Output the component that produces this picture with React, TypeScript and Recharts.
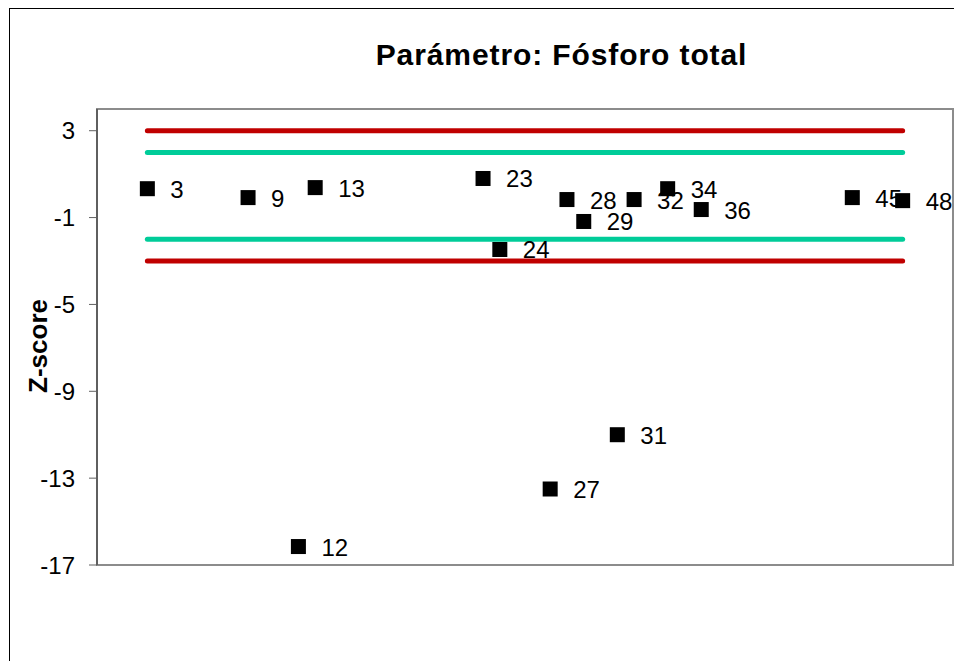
import {
  ScatterChart,
  Scatter,
  XAxis,
  YAxis,
  ReferenceLine,
  ReferenceArea,
  LabelList,
} from "recharts";

// lab number and z-score
const labs = [3, 9, 12, 13, 23, 24, 27, 28, 29, 31, 32, 34, 36, 45, 48];
const zScores = [
  0.33, -0.08, -16.15, 0.38, 0.8, -2.47, -13.5, -0.17, -1.18, -11.0, -0.17,
  0.33, -0.63, -0.08, -0.22,
];
const yTicks = [3, -1, -5, -9, -13, -17];
const warnLimits = [2, -2];
const actionLimits = [3, -3];
const limitFrom = 3;
const limitTo = 48;

const points = labs.map((lab, i) => ({ lab, z: zScores[i] }));

const font = "Arial, 'Liberation Sans', sans-serif";

function Square(props: any) {
  const { cx, cy } = props;
  return <rect x={cx - 7.5} y={cy - 7.5} width={15} height={15} fill="#000" />;
}

function PointLabel(props: any) {
  const { x, y, width, height, value } = props;
  const cx = x + width / 2;
  const cy = y + height / 2;
  return (
    <text x={cx + 23} y={cy + 9} fontSize={24} fontFamily={font} fill="#000">
      {value}
    </text>
  );
}

function AxisTitle(props: any) {
  const { viewBox } = props;
  const x = viewBox.x + 37;
  const y = viewBox.y + viewBox.height / 2 + 9;
  return (
    <text
      x={x}
      y={y}
      transform={`rotate(-90, ${x}, ${y})`}
      textAnchor="middle"
      fontSize={26}
      fontWeight="bold"
      fontFamily={font}
      fill="#000"
    >
      Z-score
    </text>
  );
}

export default function App() {
  return (
    <div
      style={{
        position: "absolute",
        left: 9,
        top: 8,
        width: 945,
        height: 653,
        borderLeft: "1px solid #000",
        borderTop: "1px solid #000",
        boxSizing: "border-box",
        background: "#fff",
        fontFamily: font,
      }}
    >
      <div
        style={{
          position: "absolute",
          left: 0,
          top: 29,
          width: 1103,
          textAlign: "center",
          fontSize: 30,
          letterSpacing: 0.9,
          fontWeight: "bold",
        }}
      >
        Parámetro: Fósforo total
      </div>
      <ScatterChart
        width={944}
        height={652}
        margin={{ top: 100, right: 1, bottom: 96, left: 0 }}
      >
        <XAxis type="number" dataKey="lab" domain={[0, 51]} hide />
        <YAxis
          type="number"
          dataKey="z"
          domain={[-17, 4]}
          ticks={yTicks}
          interval={0}
          width={87}
          tickSize={8}
          tickMargin={14}
          axisLine={{ stroke: "#505050", strokeWidth: 1.5 }}
          tickLine={{ stroke: "#606060" }}
          tick={{ fill: "#000", fontSize: 24, fontFamily: font }}
          label={<AxisTitle />}
        />
        <ReferenceArea
          x1={0}
          x2={51}
          y1={-17}
          y2={4}
          fill="none"
          stroke="#8c8c8c"
          strokeWidth={2}
        />
        {actionLimits.map((v) => (
          <ReferenceLine
            key={"a" + v}
            segment={[
              { x: limitFrom, y: v },
              { x: limitTo, y: v },
            ]}
            stroke="#c00000"
            strokeWidth={5}
            strokeLinecap="round"
          />
        ))}
        {warnLimits.map((v) => (
          <ReferenceLine
            key={"w" + v}
            segment={[
              { x: limitFrom, y: v },
              { x: limitTo, y: v },
            ]}
            stroke="#00cc99"
            strokeWidth={5}
            strokeLinecap="round"
          />
        ))}
        <Scatter data={points} shape={<Square />} isAnimationActive={false}>
          <LabelList dataKey="lab" content={<PointLabel />} />
        </Scatter>
      </ScatterChart>
    </div>
  );
}
